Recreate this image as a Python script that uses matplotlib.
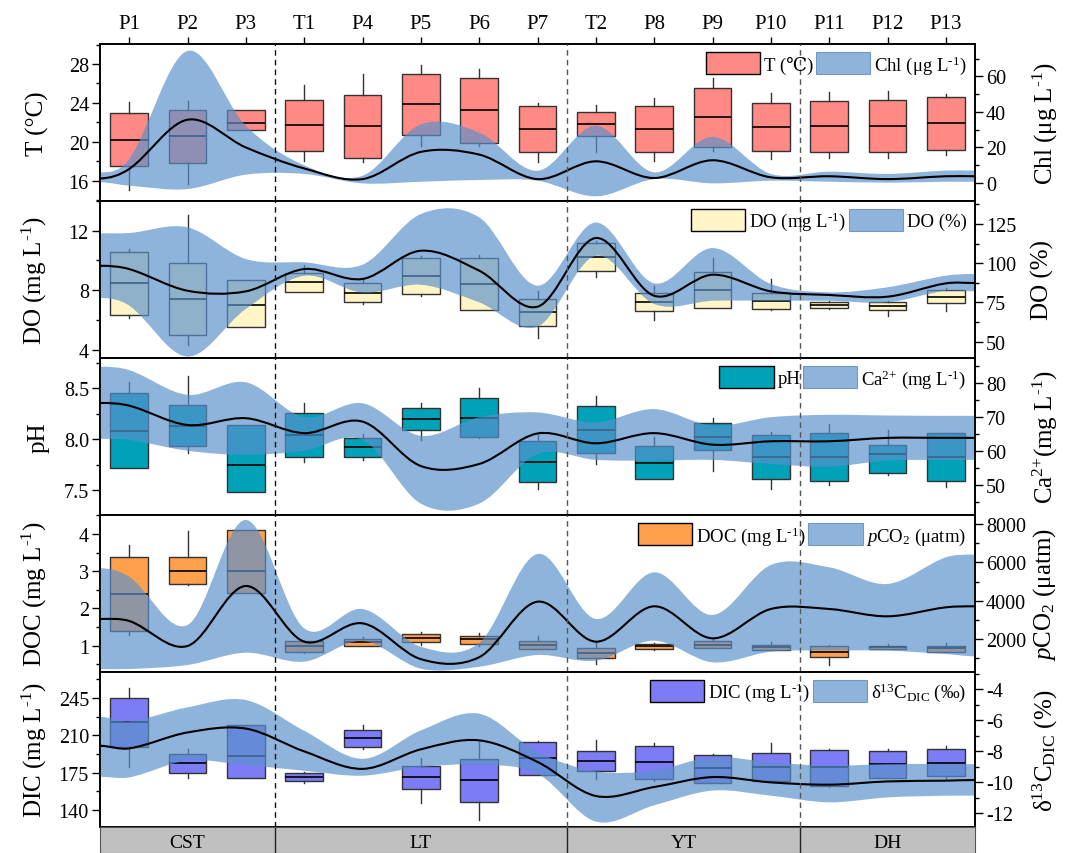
#!/usr/bin/env python3
"""Box plots per site with smoothed ribbon profiles, five stacked variables."""

import numpy as np
import matplotlib

matplotlib.use("Agg")
import matplotlib.pyplot as plt
from matplotlib.path import Path
from matplotlib.patches import PathPatch, Patch
from matplotlib.ticker import MultipleLocator, FormatStrFormatter


SITES = ["P1", "P2", "P3", "T1", "P4", "P5", "P6", "P7", "T2", "P8", "P9", "P10", "P11", "P12", "P13"]
REGIONS = ["CST", "LT", "YT", "DH"]
REGION_BOUNDS = [3.5, 8.5, 12.5]

# ribbon knots: left edge, one per site, right edge
KNOT_POS = [0.5] + list(range(1, 16)) + [15.5]

# --- temperature (box) / chlorophyll (ribbon)
T_q3 = [22.93, 23.24, 23.24, 24.27, 24.84, 26.94, 26.6, 23.7, 23.03, 23.65, 25.56, 23.99, 24.2, 24.3, 24.6]
T_med = [20.2, 20.56, 21.9, 21.7, 21.6, 23.85, 23.24, 21.3, 21.83, 21.3, 22.5, 21.5, 21.6, 21.6, 21.9]
T_q1 = [17.48, 17.85, 21.2, 19.08, 18.3, 20.73, 19.87, 18.9, 20.6, 18.9, 19.43, 19.02, 18.9, 18.9, 19.2]
T_hi = [24.1, 24.2, 23.24, 25.8, 26.97, 27.9, 27.5, 23.95, 23.8, 24.47, 26.6, 24.99, 25.1, 25.2, 24.9]
T_lo = [15.04, 15.7, 21.2, 18.0, 17.95, 19.6, 19.6, 17.95, 19.0, 18.0, 19.1, 18.2, 18.3, 18.3, 18.6]
chl_up = [6.0, 13.5, 74.3, 32.2, 10.0, 4.1, 33.0, 28.4, 6.9, 32.2, 6.0, 26.0, 5.1, 6.4, 5.1, 7.0, 7.0]
chl_lo = [0.4, -1.5, -3.4, 4.7, 5.1, -0.2, 0.7, 1.7, 1.3, -7.5, 2.2, -0.2, 1.3, 0.7, 0.2, 0.7, 0.7]
chl_mean = [2.6, 7.9, 35.6, 20.0, 8.2, 2.2, 17.5, 16.0, 2.2, 12.2, 2.8, 12.8, 3.2, 3.8, 2.2, 3.8, 3.8]

# --- dissolved oxygen, mg/L (box) / saturation % (ribbon)
DO_q3 = [10.59, 9.85, 8.66, 9.16, 8.46, 10.16, 10.16, 7.41, 11.15, 7.79, 9.24, 7.81, 7.2, 7.2, 8.01]
DO_med = [8.46, 7.43, 7.0, 8.53, 7.81, 8.95, 8.41, 6.51, 10.25, 7.18, 8.01, 7.27, 7.0, 6.96, 7.56]
DO_q1 = [6.31, 4.99, 5.5, 7.9, 7.18, 7.72, 6.65, 5.61, 9.27, 6.58, 6.78, 6.71, 6.8, 6.69, 7.12]
DO_hi = [10.77, 13.06, 8.66, 9.69, 8.68, 10.3, 10.37, 7.97, 11.33, 8.3, 10.14, 8.75, 7.29, 7.29, 8.12]
DO_lo = [6.13, 4.33, 5.5, 7.86, 7.07, 7.6, 6.65, 4.78, 8.91, 6.0, 6.78, 6.67, 6.73, 6.28, 6.62]
dosat_up = [119.1, 119.3, 122.9, 102.7, 100.6, 99.1, 131.4, 129.3, 85.7, 126.0, 87.2, 109.7, 86.8, 81.5, 84.7, 92.1, 93.2]
dosat_lo = [77.9, 73.0, 40.5, 70.9, 92.0, 81.3, 86.3, 75.1, 59.6, 104.8, 74.0, 76.1, 76.1, 76.1, 75.1, 82.5, 82.1]
dosat_mean = [98.4, 96.3, 82.5, 82.1, 96.3, 90.0, 108.0, 95.3, 72.3, 116.1, 79.3, 92.7, 82.1, 79.8, 78.7, 87.2, 87.4]

# --- pH (box) / calcium (ribbon)
pH_q3 = [8.45, 8.34, 8.14, 8.26, 8.01, 8.31, 8.40, 7.98, 8.33, 7.93, 8.16, 8.04, 8.06, 7.94, 8.06]
pH_med = [8.08, 8.13, 7.75, 8.04, 7.92, 8.20, 8.21, 7.78, 8.09, 7.77, 8.02, 7.82, 7.82, 7.85, 7.82]
pH_q1 = [7.72, 7.93, 7.48, 7.82, 7.82, 8.09, 8.02, 7.58, 7.86, 7.61, 7.89, 7.61, 7.59, 7.67, 7.59]
pH_hi = [8.56, 8.62, 8.14, 8.36, 8.05, 8.36, 8.50, 8.04, 8.42, 8.02, 8.21, 8.07, 8.15, 8.09, 8.06]
pH_lo = [7.72, 7.86, 7.48, 7.78, 7.79, 7.99, 8.01, 7.51, 7.76, 7.61, 7.69, 7.51, 7.55, 7.65, 7.53]
ca_up = [84.9, 83.9, 76.6, 80.3, 70.0, 74.1, 64.5, 70.0, 71.4, 68.5, 72.4, 67.5, 70.0, 70.7, 70.5, 70.4, 70.4]
ca_lo = [63.6, 63.3, 60.1, 58.9, 60.1, 63.3, 44.5, 44.5, 59.1, 57.4, 57.2, 57.4, 56.2, 55.4, 57.2, 57.4, 57.4]
ca_mean = [74.2, 73.4, 67.7, 69.7, 65.3, 68.7, 55.6, 56.2, 65.2, 62.3, 65.3, 61.9, 62.9, 62.9, 63.9, 63.9, 63.9]

# --- DOC (box) / pCO2 (ribbon)
DOC_q3 = [3.39, 3.39, 4.10, 1.12, 1.18, 1.32, 1.27, 1.13, 0.93, 1.04, 1.12, 1.02, 1.00, 1.00, 1.00]
DOC_med = [2.40, 3.01, 3.01, 1.00, 1.09, 1.21, 1.17, 1.02, 0.80, 0.98, 1.03, 0.96, 0.84, 0.96, 0.93]
DOC_q1 = [1.39, 2.65, 2.41, 0.84, 0.99, 1.09, 1.05, 0.91, 0.66, 0.91, 0.95, 0.89, 0.69, 0.91, 0.84]
DOC_hi = [3.70, 4.07, 4.10, 1.14, 1.24, 1.38, 1.34, 1.27, 1.09, 1.07, 1.17, 1.09, 1.02, 1.04, 1.07]
DOC_lo = [1.29, 2.62, 2.41, 0.80, 0.99, 1.02, 1.00, 0.90, 0.50, 0.87, 0.93, 0.87, 0.47, 0.90, 0.82]
pco2_up = [5690, 5250, 2731, 8212, 2557, 3566, 1600, 1800, 6437, 3044, 5479, 3253, 5863, 5742, 4871, 6261, 6400]
pco2_lo = [434, 434, 643, 1286, 817, 1896, 450, 550, 1165, 869, 1913, 783, 1339, 1400, 1391, 1217, 1095]
pco2_mean = [3044, 2940, 1635, 4767, 1861, 2818, 950, 1050, 3948, 1861, 3706, 2035, 3566, 3566, 3184, 3653, 3706]

# --- DIC (box) / d13C-DIC (ribbon)
DIC_q3 = [245.3, 192.2, 219.4, 174.4, 214.7, 180.9, 188.1, 204.0, 195.0, 200.5, 191.8, 193.4, 196.5, 195.0, 197.4]
DIC_med = [222.2, 183.7, 190.9, 170.6, 207.2, 170.6, 167.8, 188.4, 185.6, 184.8, 179.0, 180.3, 180.3, 182.8, 184.3]
DIC_q1 = [198.7, 174.4, 169.7, 166.9, 199.0, 159.9, 147.4, 172.6, 176.3, 169.5, 165.3, 166.9, 162.7, 169.7, 171.6]
DIC_hi = [254.1, 197.2, 219.4, 175.5, 219.7, 188.4, 203.5, 205.0, 206.0, 202.7, 193.0, 202.8, 197.2, 197.2, 200.3]
DIC_lo = [180.6, 169.7, 169.7, 165.5, 197.4, 146.2, 130.5, 172.6, 168.9, 167.0, 165.3, 166.9, 161.8, 169.7, 169.0]
d13c_up = [-5.79, -6.08, -5.18, -4.71, -6.69, -8.5, -6.67, -5.59, -8.06, -9.31, -9.25, -8.39, -8.73, -8.95, -8.84, -8.84, -8.84]
d13c_lo = [-9.66, -9.70, -8.62, -8.90, -9.27, -9.59, -9.03, -8.88, -9.46, -12.55, -11.5, -10.55, -10.88, -11.31, -10.99, -10.88, -10.88]
d13c_mean = [-7.66, -7.83, -6.80, -6.55, -8.02, -9.15, -7.89, -7.31, -8.70, -10.9, -10.32, -9.68, -10.02, -10.17, -9.96, -9.91, -9.87]

BAND_COLOR = "#5A91CC"
BAND_ALPHA = 0.68
EDGE = "#333333"

FIG_W, FIG_H = 1067, 854
AX_LEFT, AX_RIGHT = 100, 975
PANEL_EDGES = [45, 201.7, 359, 516, 672.7, 828]

INV = "$^{\u2010 1}$"  # short superscript hyphen for "L-1"
CA = "Ca$^{2{+}}$"


def hermite_points(xs, ys):
    """Cubic Hermite through knots, returned as Bezier vertices (flat at both ends)."""
    xs = np.asarray(xs, dtype=float)
    ys = np.asarray(ys, dtype=float)
    slope = np.zeros_like(ys)
    slope[1:-1] = (ys[2:] - ys[:-2]) / (xs[2:] - xs[:-2])
    pts = [(xs[0], ys[0])]
    for i in range(len(xs) - 1):
        h = (xs[i + 1] - xs[i]) / 3.0
        pts.append((xs[i] + h, ys[i] + slope[i] * h))
        pts.append((xs[i + 1] - h, ys[i + 1] - slope[i + 1] * h))
        pts.append((xs[i + 1], ys[i + 1]))
    return pts


def draw_ribbon(ax, upper, lower, mean):
    up = hermite_points(KNOT_POS, upper)
    lo = hermite_points(KNOT_POS[::-1], lower[::-1])
    verts = up + lo + [up[0]]
    codes = ([Path.MOVETO] + [Path.CURVE4] * (len(up) - 1) + [Path.LINETO]
             + [Path.CURVE4] * (len(lo) - 1) + [Path.CLOSEPOLY])
    ax.add_patch(PathPatch(Path(verts, codes), facecolor=BAND_COLOR, alpha=BAND_ALPHA,
                           linewidth=0, zorder=2))
    line = hermite_points(KNOT_POS, mean)
    ax.add_patch(PathPatch(Path(line, [Path.MOVETO] + [Path.CURVE4] * (len(line) - 1)),
                           fill=False, edgecolor="black", linewidth=1.5, zorder=3))


def main():
    plt.rcParams["font.family"] = ["Liberation Serif", "DejaVu Serif"]
    plt.rcParams["mathtext.fontset"] = "custom"
    plt.rcParams["mathtext.rm"] = "Liberation Serif"
    plt.rcParams["mathtext.it"] = "Liberation Serif:italic"
    plt.rcParams["mathtext.bf"] = "Liberation Serif:bold"

    mgl = "(mg L" + INV + ")"
    panels = [
        dict(box=(T_q1, T_med, T_q3, T_lo, T_hi), color="#FF8A85",
             ribbon=(chl_up, chl_lo, chl_mean),
             ylim=(13.94, 30.06), ylim2=(-9.95, 78.2), major=(4, 20), minor=(2, 10),
             ylabel="T (°C)", ylabel2="Chl (μg L" + INV + ")",
             leg=("T (℃)", "Chl (μg L" + INV + ")"), fmt="%d"),
        dict(box=(DO_q1, DO_med, DO_q3, DO_lo, DO_hi), color="#FFF5C6",
             ribbon=(dosat_up, dosat_lo, dosat_mean),
             ylim=(3.44, 14.02), ylim2=(39.6, 139.9), major=(4, 25), minor=(2, 12.5),
             ylabel="DO " + mgl, ylabel2="DO (%)",
             leg=("DO " + mgl, "DO (%)"), fmt="%d"),
        dict(box=(pH_q1, pH_med, pH_q3, pH_lo, pH_hi), color="#00A2B8",
             ribbon=(ca_up, ca_lo, ca_mean),
             ylim=(7.254, 8.798), ylim2=(41.15, 87.46), major=(0.5, 10), minor=(0.25, 5),
             ylabel="pH", ylabel2=CA + mgl,
             leg=("pH", CA + " " + mgl), fmt="%.1f"),
        dict(box=(DOC_q1, DOC_med, DOC_q3, DOC_lo, DOC_hi), color="#FFA04C",
             ribbon=(pco2_up, pco2_lo, pco2_mean),
             ylim=(0.30, 4.51), ylim2=(294, 8470), major=(1, 2000), minor=(0.5, 1000),
             ylabel="DOC " + mgl, ylabel2="$p$CO$_2$ (μatm)",
             leg=("DOC " + mgl, "$p$CO$_2$ (μatm)"), fmt="%d"),
        dict(box=(DIC_q1, DIC_med, DIC_q3, DIC_lo, DIC_hi), color="#7C7CF4",
             ribbon=(d13c_up, d13c_lo, d13c_mean),
             ylim=(124.1, 269.7), ylim2=(-12.9, -2.88), major=(35, 2), minor=(17.5, 1),
             ylabel="DIC " + mgl, ylabel2="δ$^{13}$C$_{\\mathrm{DIC}}$ (%)",
             leg=("DIC " + mgl, "δ$^{13}$C$_{\\mathrm{DIC}}$ (‰)"), fmt="%d"),
    ]

    fig = plt.figure(figsize=(FIG_W / 100, FIG_H / 100), dpi=100)
    left = AX_LEFT / FIG_W
    width = (AX_RIGHT - AX_LEFT) / FIG_W
    positions = np.arange(1, len(SITES) + 1)

    for k, spec in enumerate(panels):
        top, bottom = PANEL_EDGES[k], PANEL_EDGES[k + 1]
        ax = fig.add_axes([left, 1 - bottom / FIG_H, width, (bottom - top) / FIG_H])
        ax2 = ax.twinx()

        q1, med, q3, lo, hi = spec["box"]
        stats = [dict(med=m, q1=a, q3=b, whislo=w0, whishi=w1, fliers=[])
                 for a, m, b, w0, w1 in zip(q1, med, q3, lo, hi)]
        ax.bxp(stats, positions=positions, widths=0.65, patch_artist=True,
               showfliers=False, showcaps=False,
               boxprops=dict(facecolor=spec["color"], edgecolor=EDGE, linewidth=1.0),
               medianprops=dict(color="black", linewidth=1.2),
               whiskerprops=dict(color=EDGE, linewidth=1.0))

        upper, lower, mean = spec["ribbon"]
        draw_ribbon(ax2, upper, lower, mean)

        for j, b in enumerate(REGION_BOUNDS):
            ax2.axvline(b, color="#111111" if j == 0 else "#555555", linewidth=1.0,
                        linestyle=(0, (4, 3)), zorder=4)

        ax.set_xlim(0.5, 15.5)
        ax.set_ylim(*spec["ylim"])
        ax2.set_ylim(*spec["ylim2"])
        ax.yaxis.set_major_locator(MultipleLocator(spec["major"][0]))
        ax.yaxis.set_minor_locator(MultipleLocator(spec["minor"][0]))
        ax.yaxis.set_major_formatter(FormatStrFormatter(spec["fmt"]))
        ax2.yaxis.set_major_locator(MultipleLocator(spec["major"][1]))
        ax2.yaxis.set_minor_locator(MultipleLocator(spec["minor"][1]))
        ax2.yaxis.set_major_formatter(FormatStrFormatter("%d"))

        for a in (ax, ax2):
            a.tick_params(axis="y", which="major", direction="out", length=6, width=1,
                          labelsize=14.5, pad=2)
            a.tick_params(axis="y", which="minor", direction="out", length=3, width=1)
            for s in a.spines.values():
                s.set_linewidth(1.2)
                s.set_color("black")

        if k == 0:
            ax.set_xticks(positions)
            ax.set_xticklabels(SITES)
            ax.tick_params(axis="x", top=True, bottom=False, labeltop=True, labelbottom=False,
                           direction="out", length=5, width=1, labelsize=15, pad=3)
        else:
            ax.set_xticks([])

        ax.set_ylabel(spec["ylabel"], fontsize=18)
        ax.yaxis.set_label_coords(-0.058, 0.5)
        ax2.set_ylabel(spec["ylabel2"], fontsize=18)
        ax2.yaxis.set_label_coords(1.064, 0.5)

        handles = [Patch(facecolor=spec["color"], edgecolor="black", linewidth=1.0),
                   Patch(facecolor=BAND_COLOR, alpha=BAND_ALPHA, edgecolor="#4C78AE", linewidth=0.8)]
        ax2.legend(handles, spec["leg"], loc="upper right", bbox_to_anchor=(1.0, 1.0), ncol=2,
                   frameon=False, fontsize=13.5, handlelength=2.9, handleheight=1.4,
                   handletextpad=0.2, columnspacing=0.15, borderaxespad=0.25, borderpad=0.2)

    # region strip under the last panel
    gax = fig.add_axes([left, 0, width, (FIG_H - PANEL_EDGES[-1]) / FIG_H])
    gax.set_facecolor("#C0C0C0")
    gax.set_xlim(0.5, 15.5)
    gax.set_ylim(0, 1)
    gax.set_xticks([])
    gax.set_yticks([])
    for s in gax.spines.values():
        s.set_color("#555555")
    for b in REGION_BOUNDS:
        gax.axvline(b, color="#222222", linewidth=1.0)
    edges = [0.5] + REGION_BOUNDS + [15.5]
    for name, x0, x1 in zip(REGIONS, edges[:-1], edges[1:]):
        gax.text((x0 + x1) / 2, 0.42, name, ha="center", va="center", fontsize=14)

    fig.savefig("out.png", dpi=100)
    plt.close(fig)
    return 0


if __name__ == "__main__":
    raise SystemExit(main())
